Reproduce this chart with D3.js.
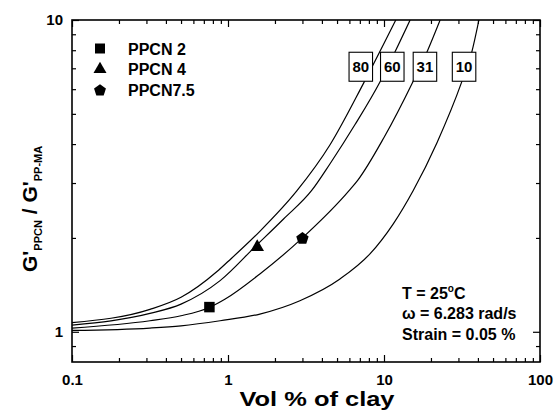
<!DOCTYPE html>
<html>
<head>
<meta charset="utf-8">
<script src="https://cdn.jsdelivr.net/npm/d3@7/dist/d3.min.js"></script>
<style>
  html, body { margin: 0; padding: 0; background: #fff; }
  svg { display: block; }
  text { font-family: "Liberation Sans", Arial, Helvetica, sans-serif; font-weight: bold; fill: #000; }
</style>
</head>
<body>
<svg id="chart" width="556" height="414"></svg>
<script>
// ---- Data ----
const xMajorTicks = [0.1, 1, 10, 100];
const xTickLabels = ["0.1", "1", "10", "100"];
const yMajorTicks = [1, 10];
const yTickLabels = ["1", "10"];

const aspectRatios = ["80", "60", "31", "10"];
const curve80 = [[0.1,1.07],[0.316,1.18],[0.5,1.29],[0.85,1.56],[1.0,1.68],[1.6,2.1],[2.76,2.83],[4.51,3.98],[7.36,6.24],[11.9,10]];
const curve60 = [[0.1,1.051],[0.316,1.145],[0.5,1.227],[0.89,1.459],[1.5,1.88],[2.27,2.3],[3.44,2.84],[4.51,3.46],[6.52,4.62],[9.42,6.33],[11.77,7.91],[14.7,10]];
const curve31 = [[0.1,1.028],[0.316,1.085],[0.5,1.126],[0.76,1.197],[0.96,1.274],[1.6,1.533],[3.0,2.0],[5.99,2.84],[6.78,3.06],[10,4.2],[15.3,6.33],[18.8,7.87],[22.9,10]];
const curve10 = [[0.1,1.01],[0.316,1.028],[0.5,1.045],[0.89,1.085],[1.6,1.14],[2.89,1.258],[5.22,1.477],[8.13,1.778],[11.47,2.22],[15.4,2.84],[21.9,4.05],[31.5,6.33],[36.5,7.87],[40.6,10]];
const labelX = [7.1, 11.3, 18.3, 32.6];   // x value (data space) of each curve label box
const labelY = 7.08;                        // y value (data space) of the label boxes

const seriesNames = ["PPCN 2", "PPCN 4", "PPCN7.5"];
const seriesX = [0.76, 1.54, 3.0];
const seriesY = [1.2, 1.87, 2.0];
const seriesSymbols = ["square", "triangle", "pentagon"];

const conditions = ["T = 25", "\u03C9 = 6.283 rad/s", "Strain = 0.05 %"];

// ---- Layout ----
const svg = d3.select("#chart");
const L = 72, R = 540, T = 20, B = 362;

const x = d3.scaleLog().domain([0.1, 100]).range([L, R]);
const y = d3.scaleLog().domain([0.8, 10]).range([B, T]);

const xMinor = [];
[0.1, 1, 10].forEach(d => { for (let k = 2; k <= 9; k++) xMinor.push(+(k * d).toPrecision(3)); });
const yMinor = [0.9, 2, 3, 4, 5, 6, 7, 8, 9];

// clip
svg.append("defs").append("clipPath").attr("id", "clip")
  .append("rect").attr("x", L).attr("y", T).attr("width", R - L).attr("height", B - T);

// axes (ticks inward)
function styleAxis(g) {
  g.select(".domain").remove();
  g.selectAll(".tick line").attr("stroke", "#000").attr("stroke-width", 1.2);
  g.selectAll(".tick text").style("font-size", "15px").style("font-weight", "bold")
    .style("font-family", '"Liberation Sans", Arial, sans-serif').attr("fill", "#000");
}
const fmtX = d => xTickLabels[xMajorTicks.indexOf(d)];
const fmtY = d => yTickLabels[yMajorTicks.indexOf(d)];

svg.append("g").attr("transform", `translate(0,${B})`)
  .call(d3.axisBottom(x).tickValues(xMajorTicks).tickSize(-7).tickPadding(12).tickFormat(fmtX)).call(styleAxis);
svg.append("g").attr("transform", `translate(0,${B})`)
  .call(d3.axisBottom(x).tickValues(xMinor).tickSize(-4).tickFormat("")).call(styleAxis);
svg.append("g").attr("transform", `translate(0,${T})`)
  .call(d3.axisTop(x).tickValues(xMajorTicks).tickSize(-7).tickFormat("")).call(styleAxis);
svg.append("g").attr("transform", `translate(0,${T})`)
  .call(d3.axisTop(x).tickValues(xMinor).tickSize(-4).tickFormat("")).call(styleAxis);

svg.append("g").attr("transform", `translate(${L},0)`)
  .call(d3.axisLeft(y).tickValues(yMajorTicks).tickSize(-7).tickPadding(9).tickFormat(fmtY)).call(styleAxis);
svg.append("g").attr("transform", `translate(${L},0)`)
  .call(d3.axisLeft(y).tickValues(yMinor).tickSize(-4).tickFormat("")).call(styleAxis);
svg.append("g").attr("transform", `translate(${R},0)`)
  .call(d3.axisRight(y).tickValues(yMajorTicks).tickSize(-7).tickFormat("")).call(styleAxis);
svg.append("g").attr("transform", `translate(${R},0)`)
  .call(d3.axisRight(y).tickValues(yMinor).tickSize(-4).tickFormat("")).call(styleAxis);

// frame
svg.append("rect").attr("x", L).attr("y", T).attr("width", R - L).attr("height", B - T)
  .attr("fill", "none").attr("stroke", "#000").attr("stroke-width", 1.6);

// curves
const line = d3.line().x(d => x(d[0])).y(d => y(d[1])).curve(d3.curveMonotoneX);
const curves = [curve80, curve60, curve31, curve10];
svg.append("g").attr("clip-path", "url(#clip)")
  .selectAll("path").data(curves).join("path")
  .attr("d", line).attr("fill", "none").attr("stroke", "#000").attr("stroke-width", 1.2);

// curve label boxes
const bw = 23.5, bh = 29;
const lbl = svg.append("g").selectAll("g").data(aspectRatios).join("g")
  .attr("transform", (d, i) => `translate(${x(labelX[i])},${y(labelY)})`);
lbl.append("rect").attr("x", -bw / 2).attr("y", -bh / 2).attr("width", bw).attr("height", bh)
  .attr("fill", "#fff").attr("stroke", "#000").attr("stroke-width", 1.1);
lbl.append("text").attr("text-anchor", "middle").attr("y", 5.5).style("font-size", "15px").text(d => d);

// symbols
function symbolPath(kind, s) {
  if (kind === "square") return d3.symbol(d3.symbolSquare, s * s)();
  if (kind === "triangle") return d3.symbol(d3.symbolTriangle, Math.sqrt(3) / 4 * s * s)();
  // pentagon
  const r = s / 2, pts = [];
  for (let k = 0; k < 5; k++) {
    const a = -Math.PI / 2 + k * 2 * Math.PI / 5;
    pts.push([r * Math.cos(a), r * Math.sin(a) + r * 0.1]);
  }
  return "M" + pts.map(p => p.join(",")).join("L") + "Z";
}
const symSize = { square: 10.5, triangle: 13.5, pentagon: 13 };

svg.append("g").selectAll("path").data(seriesNames).join("path")
  .attr("transform", (d, i) => `translate(${x(seriesX[i])},${y(seriesY[i])})`)
  .attr("d", (d, i) => symbolPath(seriesSymbols[i], symSize[seriesSymbols[i]]))
  .attr("fill", "#000");

// legend
const leg = svg.append("g").selectAll("g").data(seriesNames).join("g")
  .attr("transform", (d, i) => `translate(100,${48.5 + i * 20.7})`);
leg.append("path").attr("d", (d, i) => symbolPath(seriesSymbols[i], symSize[seriesSymbols[i]] - 0.5)).attr("fill", "#000");
leg.append("text").attr("x", 28).attr("y", 6).style("font-size", "16px").text(d => d);

// conditions text
const cond = svg.append("g").style("font-size", "16px");
const t0 = cond.append("text").attr("x", 402).attr("y", 298.5);
t0.append("tspan").text(conditions[0]);
t0.append("tspan").attr("dy", -7).style("font-size", "10px").text("o");
t0.append("tspan").attr("dy", 7).text("C");
cond.append("text").attr("x", 402).attr("y", 319).text(conditions[1]);
cond.append("text").attr("x", 402).attr("y", 340).text(conditions[2]);

// axis titles
svg.append("text").attr("x", 317).attr("y", 406).attr("text-anchor", "middle")
  .style("font-size", "20px").attr("textLength", 155).attr("lengthAdjust", "spacingAndGlyphs")
  .text("Vol % of clay");

const yt = svg.append("text").attr("transform", "translate(37,272) rotate(-90)").attr("text-anchor", "start");
yt.append("tspan").style("font-size", "21px").text("G'");
yt.append("tspan").style("font-size", "11px").attr("dy", 4.5).text("PPCN");
yt.append("tspan").style("font-size", "21px").attr("dy", -4.5).text(" / G'");
yt.append("tspan").style("font-size", "11px").attr("dy", 4.5).text("PP-MA");
</script>
</body>
</html>
